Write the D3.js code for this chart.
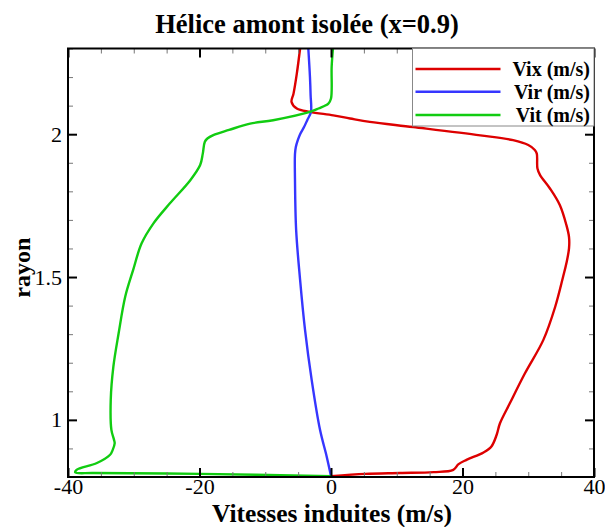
<!DOCTYPE html>
<html><head><meta charset="utf-8">
<script src="https://cdn.jsdelivr.net/npm/d3@7"></script>
<style>body{margin:0;background:#fff}svg{display:block}text{font-family:"Liberation Serif","Times New Roman",serif}</style>
</head><body>
<script>
const title = "Hélice amont isolée (x=0.9)";
const xLabel = "Vitesses induites (m/s)";
const yLabel = "rayon";
const seriesNames = ["Vix (m/s)", "Vir (m/s)", "Vit (m/s)"];
const seriesColors = ["#dd0000", "#3636ff", "#11cc11"];
const xTicks = [-40, -20, 0, 20, 40];
const yTicks = [1, 1.5, 2];

const vixR = [2.30, 2.212, 2.142, 2.113, 2.09, 2.078, 2.066, 2.055, 2.043, 2.025, 1.996, 1.979, 1.962, 1.945, 1.932, 1.88, 1.857, 1.81, 1.752, 1.682, 1.64, 1.60, 1.548, 1.501, 1.396, 1.28, 1.163, 1.058, 0.988, 0.948, 0.907, 0.886, 0.86, 0.845, 0.825, 0.817, 0.814, 0.811, 0.803];
const vixV = [-4.7, -5.2, -5.7, -6.0, -5.2, -3.2, 0.35, 2.9, 5.9, 12.5, 22.7, 27.7, 30.0, 31.0, 31.3, 31.4, 31.8, 33.3, 34.8, 35.8, 36.2, 36.2, 35.8, 35.3, 34.1, 32.3, 29.5, 27.2, 25.7, 25.2, 24.4, 23.2, 20.6, 19.4, 18.6, 15.6, 10.5, 5.2, 0];

const virR = [2.30, 2.2, 2.136, 2.078, 2.05, 2.025, 2.0, 1.979, 1.955, 1.93, 1.845, 1.664, 1.49, 1.315, 1.14, 0.965, 0.872, 0.803];
const virV = [-3.45, -3.2, -3.1, -3.05, -3.6, -4.1, -4.7, -5.05, -5.35, -5.48, -5.48, -5.3, -4.7, -3.95, -2.94, -1.67, -0.66, 0];

const vitR = [2.30, 2.236, 2.125, 2.107, 2.09, 2.078, 2.049, 2.037, 2.015, 1.997, 1.985, 1.973, 1.932, 1.892, 1.839, 1.758, 1.688, 1.618, 1.524, 1.431, 1.303, 1.186, 1.07, 0.965, 0.93, 0.918, 0.895, 0.878, 0.849, 0.825, 0.816, 0.814, 0.811, 0.803];
const vitV = [0.3, 0.1, 0, -0.4, -1.9, -3.2, -8.8, -12.3, -15.5, -17.9, -18.8, -19.2, -19.5, -19.9, -21.4, -24.5, -27.0, -28.8, -30.1, -31.3, -32.3, -33.1, -33.5, -33.4, -33.0, -32.9, -33.2, -33.6, -35.6, -38.7, -38.9, -36.1, -19.9, 0];

const W = 605, H = 527;
const L = 68, R = 594, T = 48.5, B = 477;
const svg = d3.select("body").append("svg").attr("width", W).attr("height", H);
const x = d3.scaleLinear().domain([-40, 40]).range([L, R]);
const y = d3.scaleLinear().domain([0.8, 2.3]).range([B, T]);

svg.append("defs").append("clipPath").attr("id", "clip")
  .append("rect").attr("x", L).attr("y", T).attr("width", R - L).attr("height", B - T);

const series = [
  {r: vixR, v: vixV}, {r: virR, v: virV}, {r: vitR, v: vitV}
];
const line = d3.line().x(d => x(d[0])).y(d => y(d[1])).curve(d3.curveCatmullRom.alpha(0.5));
const g = svg.append("g").attr("clip-path", "url(#clip)");
series.forEach((s, i) => {
  const pts = s.v.map((v, j) => [v, s.r[j]]);
  g.append("path").attr("d", line(pts)).attr("fill", "none")
    .attr("stroke", seriesColors[i]).attr("stroke-width", 2.4).attr("stroke-linejoin", "round");
});

// ticks (inward, mirrored)
const xMinor = d3.range(-40, 40.01, 5).filter(v => !xTicks.includes(v));
const yMinor = d3.range(0.8, 2.31, 0.1).map(v => +v.toFixed(2)).filter(v => !yTicks.includes(v));
const axB = d3.axisBottom(x).tickValues(xTicks).tickSize(-9).tickFormat(d => d);
const axT = d3.axisTop(x).tickValues(xTicks).tickSize(-9).tickFormat("");
const axL = d3.axisLeft(y).tickValues(yTicks).tickSize(-9).tickFormat(d => d);
const axRt = d3.axisRight(y).tickValues(yTicks).tickSize(-9).tickFormat("");
const mB = d3.axisBottom(x).tickValues(xMinor).tickSize(-5).tickFormat("");
const mT = d3.axisTop(x).tickValues(xMinor).tickSize(-5).tickFormat("");
const mL = d3.axisLeft(y).tickValues(yMinor).tickSize(-5).tickFormat("");
const mR = d3.axisRight(y).tickValues(yMinor).tickSize(-5).tickFormat("");

function styleAxis(sel, major) {
  sel.select(".domain").remove();
  sel.selectAll(".tick line").attr("stroke", major ? "#000" : "#777").attr("stroke-width", major ? 2 : 1);
}
[[mB, `translate(0,${B})`], [mT, `translate(0,${T})`], [mL, `translate(${L},0)`], [mR, `translate(${R},0)`]]
  .forEach(([a, t]) => svg.append("g").attr("transform", t).call(a).call(s => styleAxis(s, false)));
const gB = svg.append("g").attr("transform", `translate(0,${B})`).call(axB).call(s => styleAxis(s, true));
svg.append("g").attr("transform", `translate(0,${T})`).call(axT).call(s => styleAxis(s, true));
const gL = svg.append("g").attr("transform", `translate(${L},0)`).call(axL).call(s => styleAxis(s, true));
svg.append("g").attr("transform", `translate(${R},0)`).call(axRt).call(s => styleAxis(s, true));
gB.selectAll(".tick text").attr("font-size", 22).attr("fill", "#000").attr("y", 1.5).attr("dy", "0.71em")
  .attr("font-family", "Liberation Serif");
gL.selectAll(".tick text").attr("font-size", 22).attr("fill", "#000").attr("x", -6).attr("dy", "0.32em")
  .attr("font-family", "Liberation Serif");

// frame
svg.append("rect").attr("x", L).attr("y", T).attr("width", R - L).attr("height", B - T)
  .attr("fill", "none").attr("stroke", "#000").attr("stroke-width", 2);

// legend
const lg = svg.append("g");
lg.append("rect").attr("x", 412.5).attr("y", T).attr("width", R - 412.5).attr("height", 126 - T)
  .attr("fill", "#fff").attr("stroke", "#888").attr("stroke-width", 1);
const legY = [69, 91.7, 115];
seriesNames.forEach((n, i) => {
  lg.append("line").attr("x1", 415.5).attr("x2", 500.5).attr("y1", legY[i]).attr("y2", legY[i])
    .attr("stroke", seriesColors[i]).attr("stroke-width", 2.4);
  lg.append("text").attr("x", 590).attr("y", legY[i]).attr("dy", "0.35em").attr("text-anchor", "end")
    .attr("font-size", 20).attr("font-weight", "bold").text(n);
});

// titles
svg.append("text").attr("x", 307).attr("y", 33).attr("text-anchor", "middle")
  .attr("font-size", 26.5).attr("font-weight", "bold").text(title);
svg.append("text").attr("x", 332).attr("y", 522).attr("text-anchor", "middle")
  .attr("font-size", 25.5).attr("font-weight", "bold").text(xLabel);
svg.append("text").attr("transform", `translate(30,${(T + B) / 2 + 5}) rotate(-90)`).attr("text-anchor", "middle")
  .attr("font-size", 24).attr("font-weight", "bold").text(yLabel);
</script>
</body></html>
